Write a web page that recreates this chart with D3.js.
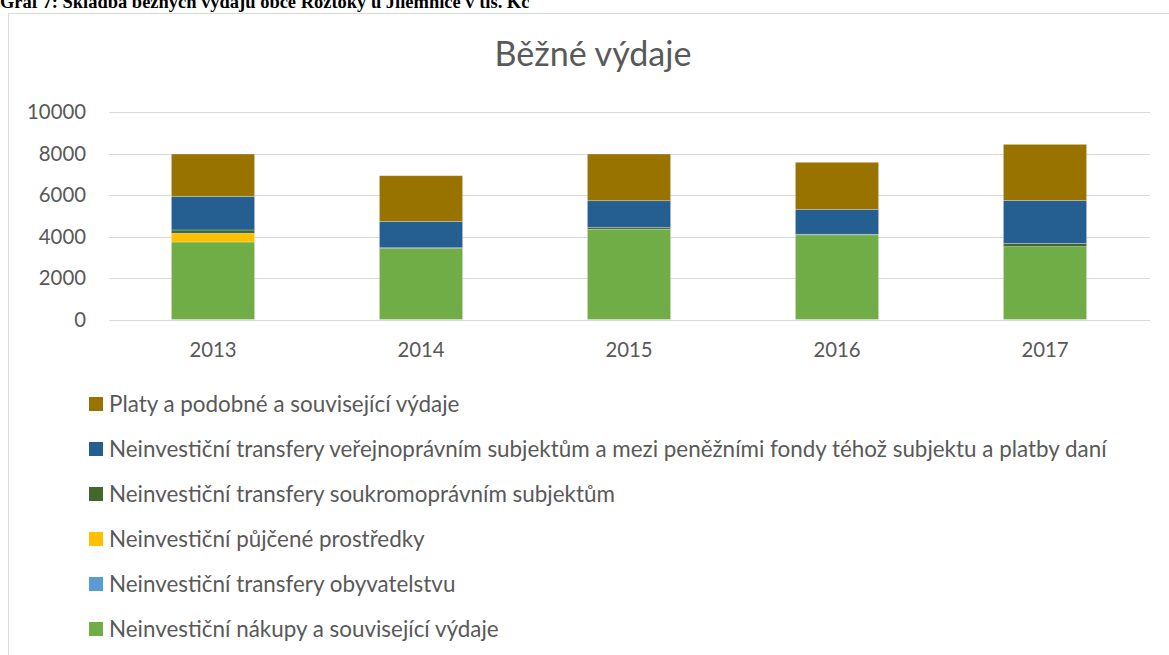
<!DOCTYPE html>
<html lang="cs">
<head>
<meta charset="UTF-8">
<title>Běžné výdaje</title>
<script src="https://d3js.org/d3.v7.min.js"></script>
<style>
    body { margin: 0; background: #fff; }
    svg { display: block; }
</style>
</head>
<body>
<script>
    // data (tis. Kč)
    const years = ["2013", "2014", "2015", "2016", "2017"];
    const nakupy = [3735, 3420, 4350, 4080, 3510];        // Neinvestiční nákupy a související výdaje
    const obyvatelstvu = [0, 0, 0, 0, 0];                 // Neinvestiční transfery obyvatelstvu
    const pujcene = [420, 0, 0, 0, 0];                    // Neinvestiční půjčené prostředky
    const soukromopravni = [160, 40, 95, 30, 160];        // Neinvestiční transfery soukromoprávním subjektům
    const verejnopravni = [1620, 1270, 1280, 1200, 2070]; // Neinvestiční transfery veřejnoprávním subjektům ...
    const platy = [2040, 2200, 2250, 2265, 2700];         // Platy a podobné a související výdaje
    const yTicks = [0, 2000, 4000, 6000, 8000, 10000];

    const series = [
        { key: "nakupy", name: "Neinvestiční nákupy a související výdaje", values: nakupy, color: "#70AD47" },
        { key: "obyv", name: "Neinvestiční transfery obyvatelstvu", values: obyvatelstvu, color: "#5B9BD5" },
        { key: "pujc", name: "Neinvestiční půjčené prostředky", values: pujcene, color: "#FFC000" },
        { key: "souk", name: "Neinvestiční transfery soukromoprávním subjektům", values: soukromopravni, color: "#43682B" },
        { key: "verej", name: "Neinvestiční transfery veřejnoprávním subjektům a mezi peněžními fondy téhož subjektu a platby daní", values: verejnopravni, color: "#255E91" },
        { key: "platy", name: "Platy a podobné a související výdaje", values: platy, color: "#997300" }
    ];

    const W = 1169, H = 655;
    const svg = d3.select("body").append("svg")
        .attr("width", W)
        .attr("height", H);

    const font = "Lato, 'Open Sans', sans-serif";
    const txt = "#595959";

    // caption above the chart (its top is cut off in the original too)
    const cap = svg.append("text")
        .attr("x", 0)
        .attr("y", 8)
        .style("font-family", "'Liberation Serif', 'Times New Roman', serif")
        .style("font-weight", "bold")
        .style("font-size", "19px")
        .text("Graf 7: Skladba běžných výdajů obce Roztoky u Jilemnice v tis. Kč");
    fitWidth(cap, 530);

    // chart frame
    svg.append("path")
        .attr("d", `M8.5,${H} V13.5 H${W}`)
        .attr("fill", "none")
        .attr("stroke", "#d9d9d9")
        .attr("stroke-width", 1);

    // title
    const title = svg.append("text")
        .attr("x", 593)
        .attr("y", 66)
        .attr("text-anchor", "middle")
        .style("font-family", font)
        .style("font-size", "30px")
        .style("fill", txt)
        .text("Běžné výdaje");
    fitWidth(title, 197);

    const x = d3.scaleBand()
        .domain(years)
        .range([109, 1149])
        .paddingInner(0.6)
        .paddingOuter(0.3);

    const y = d3.scaleLinear()
        .domain([0, 10000])
        .range([319.5, 112]);

    // gridlines
    svg.append("g")
        .selectAll("line")
        .data(yTicks)
        .join("line")
        .attr("x1", 109)
        .attr("x2", 1150)
        .attr("y1", d => Math.round(y(d)) + 0.5)
        .attr("y2", d => Math.round(y(d)) + 0.5)
        .attr("stroke", "#d9d9d9")
        .attr("stroke-width", 1.2);

    // y axis labels
    const yAxis = svg.append("g")
        .attr("transform", "translate(109,0)")
        .call(d3.axisLeft(y).tickValues(yTicks).tickSize(0).tickPadding(23).tickFormat(d3.format("d")));
    yAxis.select(".domain").remove();
    yAxis.selectAll("text")
        .style("font-family", font)
        .style("font-size", "20px")
        .style("fill", txt);

    // x axis labels
    const xAxis = svg.append("g")
        .attr("transform", "translate(0,319.5)")
        .call(d3.axisBottom(x).tickSize(0).tickPadding(23));
    xAxis.select(".domain").remove();
    xAxis.selectAll("text")
        .style("font-family", font)
        .style("font-size", "20px")
        .style("fill", txt);

    // stacked bars
    const table = years.map((yr, i) => {
        const row = { year: yr };
        series.forEach(s => row[s.key] = s.values[i]);
        return row;
    });
    const stack = d3.stack().keys(series.map(s => s.key))(table);

    svg.append("g")
        .selectAll("g")
        .data(stack)
        .join("g")
        .attr("fill", (d, i) => series[i].color)
        .selectAll("rect")
        .data(d => d)
        .join("rect")
        .attr("x", d => x(d.data.year))
        .attr("width", x.bandwidth())
        .attr("y", d => y(d[1]))
        .attr("height", d => y(d[0]) - y(d[1]))
        .attr("stroke", "#fff")
        .attr("stroke-opacity", d => (d[1] - d[0]) > 0 ? 0.35 : 0)
        .attr("stroke-width", 0.75);

    // legend (reversed order, one item per row)
    const legend = svg.append("g")
        .selectAll("g")
        .data(series.slice().reverse())
        .join("g")
        .attr("transform", (d, i) => `translate(89,${404 + i * 45})`);

    legend.append("rect")
        .attr("x", 0)
        .attr("y", -7)
        .attr("width", 14)
        .attr("height", 14)
        .attr("fill", d => d.color);

    const ltext = legend.append("text")
        .attr("x", 20)
        .attr("dy", "0.35em")
        .style("font-family", font)
        .style("font-size", "20px")
        .style("fill", txt)
        .text(d => d.name);

    // scale legend font so the longest entry spans like in the picture
    const longest = ltext.filter(d => d.key === "verej");
    const fs = 20 * 998 / longest.node().getComputedTextLength();
    ltext.style("font-size", fs + "px");

    // axis labels: "10000" is about 59px wide in the picture
    const maxLabel = yAxis.selectAll("text").filter(d => d === 10000);
    const afs = 20 * 59 / maxLabel.node().getComputedTextLength();
    yAxis.selectAll("text").style("font-size", afs + "px");
    xAxis.selectAll("text").style("font-size", afs + "px");

    function fitWidth(sel, target) {
        const size = parseFloat(sel.style("font-size"));
        const w = sel.node().getComputedTextLength();
        sel.style("font-size", (size * target / w) + "px");
    }
</script>
</body>
</html>
